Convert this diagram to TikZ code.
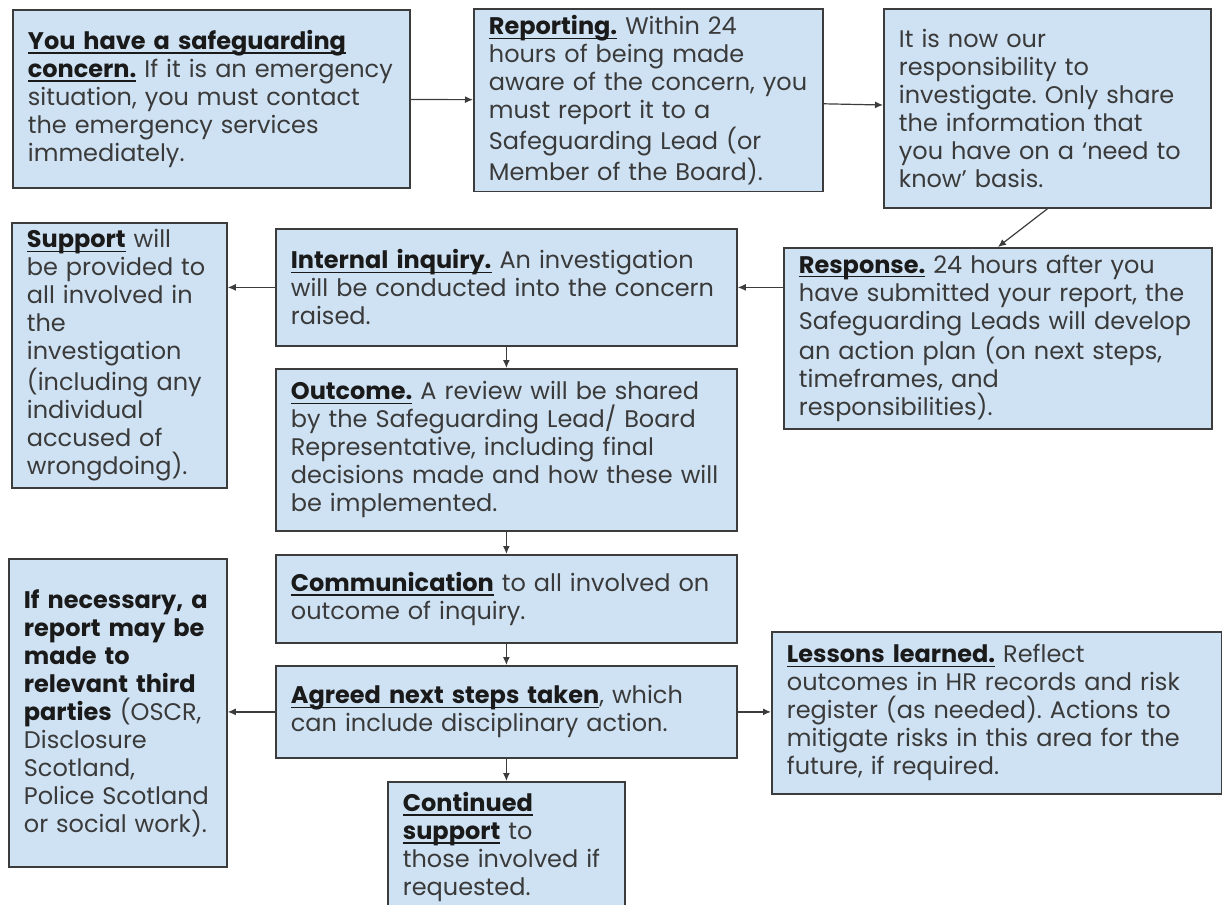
\documentclass[tikz,border=0pt]{standalone}
\usepackage{fontspec}
\setmainfont{Poppins}
\usetikzlibrary{arrows.meta,calc}
\definecolor{boxblue}{HTML}{CFE2F3}
\definecolor{boxline}{HTML}{3C3C3C}
\definecolor{bodytext}{HTML}{3A3A3A}
\definecolor{headtext}{HTML}{1A1A1A}
\newcommand{\hd}[1]{\leavevmode{\bfseries\color{headtext}\setbox0\hbox{#1}\rlap{\rule[-2.2pt]{\wd0}{0.7pt}}\box0}}
\frenchspacing
\tikzset{
	box/.style 2 args={draw=boxline, line width=0.9pt, fill=boxblue, anchor=north west,
		minimum width=#1*0.5pt, minimum height=#2*0.5pt, text width=#1*0.5pt-15pt,
		inner xsep=7.5pt, align=left, text=bodytext, font=\fontsize{12}{14}\selectfont},
	link/.style={draw=boxline, line width=0.6pt, -{Latex[length=4pt,width=3.5pt]}}
}

\begin{document}
\begin{tikzpicture}[x=0.5pt, y=-0.5pt]
		%%%%% START %%%%%
		\useasboundingbox (0, 0) rectangle (1222, 905);
		
		\node[box={397}{178}] (concern) at (12, 9) {\hd{You have a safeguarding}\\
			\hd{concern.} If it is an emergency\\ situation, you must contact\\
			the emergency services\\ immediately.};
		\node[box={349}{179}] (report) at (473, 8) {\hd{Reporting.} Within 24\\
			hours of being made\\ aware of the concern, you\\ must report it to a\\
			Safeguarding Lead (or\\ Member of the Board).};
		\node[box={327}{199}] (duty) at (883, 8) {It is now our\\ responsibility to\\
			investigate. Only share\\ the information that\\ you have on a ‘need to\\
			know’ basis.};
		\node[box={428}{181}] (response) at (783, 247) {\hd{Response.} 24 hours after you\\
			have submitted your report, the\\ Safeguarding Leads will develop\\
			an action plan (on next steps,\\ timeframes, and\\ responsibilities).};
		
		\node[box={461}{117}] (inquiry) at (275, 228) {\hd{Internal inquiry.} An investigation\\
			will be conducted into the concern\\ raised.};
		\node[box={215}{244}] (support) at (11, 222) {\hd{Support} will\\ be provided to\\
			all involved in\\ the\\ investigation\\ (including any\\ individual\\
			accused of\\ wrongdoing).};
		\node[box={461}{162}] (outcome) at (275, 368) {\hd{Outcome.} A review will be shared\\
			by the Safeguarding Lead/ Board\\ Representative, including final\\
			decisions made and how these will\\ be implemented.};
		\node[box={461}{88}] (comm) at (275, 554) {\hd{Communication} to all involved on\\
			outcome of inquiry.};
		\node[box={461}{92}] (agreed) at (275, 665) {\hd{Agreed next steps taken}, which\\
			can include disciplinary action.};
		
		\node[box={450}{162}] (lessons) at (771, 631) {\hd{Lessons learned.} Reflect\\
			outcomes in HR records and risk\\ register (as needed). Actions to\\
			mitigate risks in this area for the\\ future, if required.};
		\node[box={218}{308}] (thirdparty) at (8, 558) {{\bfseries\color{headtext}If necessary, a}\\
			{\bfseries\color{headtext}report may be}\\ {\bfseries\color{headtext}made to}\\
			{\bfseries\color{headtext}relevant third}\\ {\bfseries\color{headtext}parties} (OSCR,\\
			Disclosure\\ Scotland,\\ Police Scotland\\ or social work).};
		\node[box={237}{130}] (continued) at (387, 781) {\hd{Continued}\\ \hd{support} to\\
			those involved if\\ requested.};
		
		% connectors
		\draw[link] (concern) -- (report);
		\draw[link] (report) -- (duty);
		\draw[link] (duty.south) -- (response.north);
		\draw[link] (inquiry.east -| response.west) -- (inquiry.east);
		\draw[link] (inquiry.west) -- (inquiry.west -| support.east);
		\draw[link] (inquiry) -- (outcome);
		\draw[link] (outcome) -- (comm);
		\draw[link] (comm) -- (agreed);
		\draw[link] (agreed) -- (continued);
		\draw[link] (agreed.west) -- (agreed.west -| thirdparty.east);
		\draw[link] (agreed.east) -- (agreed.east -| lessons.west);
		
		%%%%% END %%%%%
	\end{tikzpicture}
\end{document}
